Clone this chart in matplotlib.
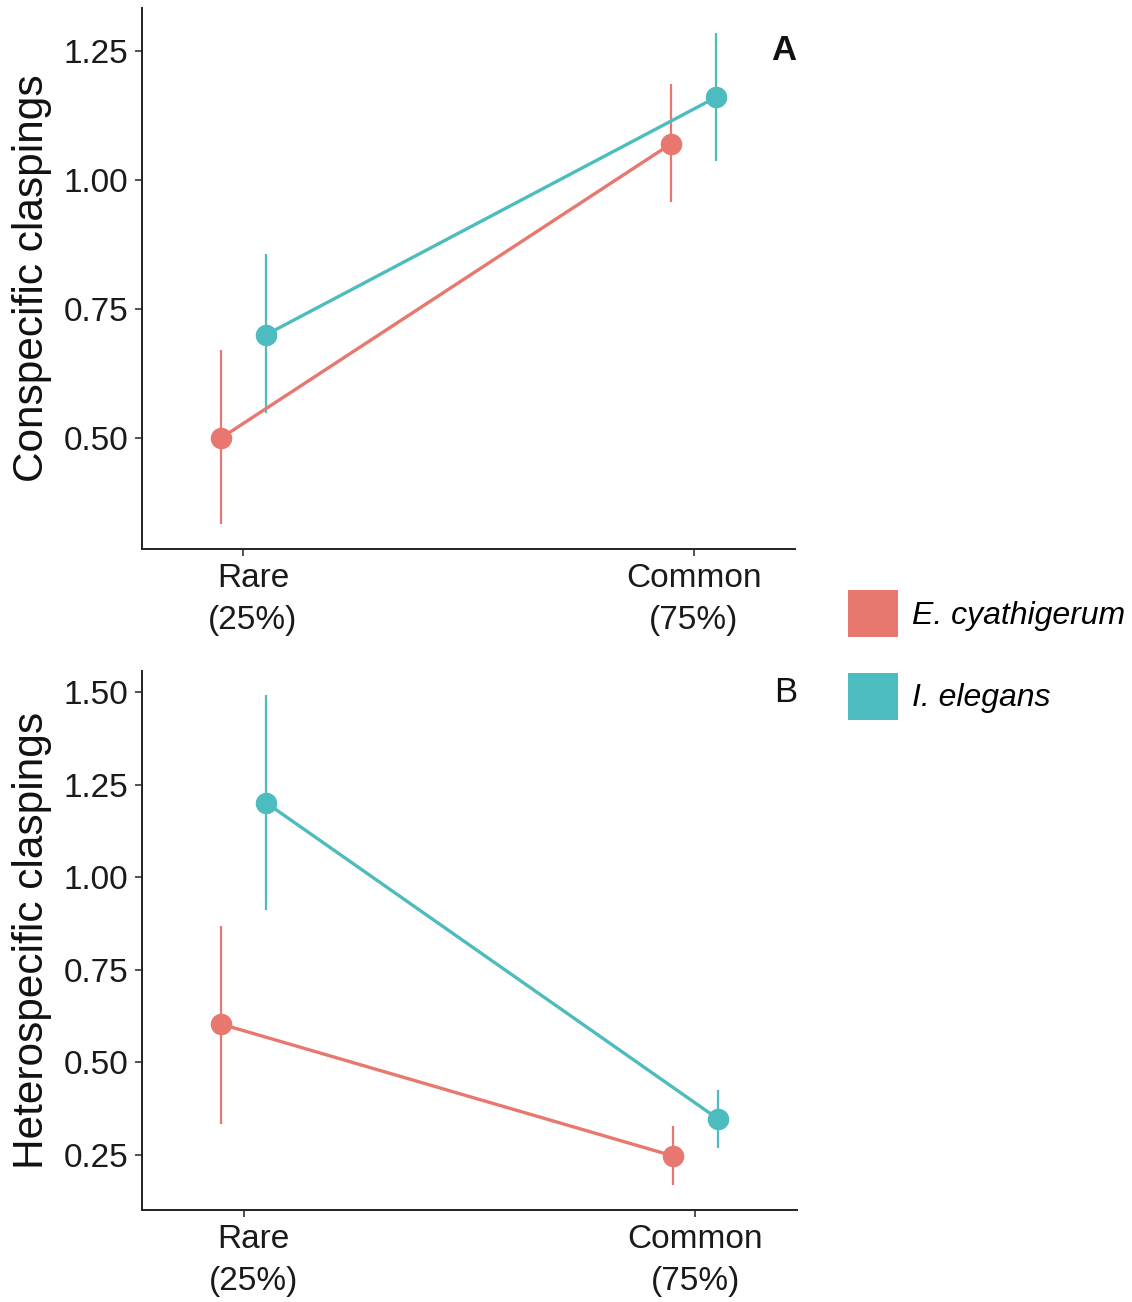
import matplotlib
matplotlib.use("Agg")
import matplotlib.pyplot as plt
import matplotlib.transforms as mtransforms
from matplotlib.patches import Patch
import numpy as np

plt.rcParams['font.family'] = ['Liberation Sans', 'DejaVu Sans']

# data
categories = ["Rare\n(25%)", "Common\n(75%)"]
species = ["E. cyathigerum", "I. elegans"]
colors = ["#E8776F", "#4DBCBF"]

# panel A: conspecific claspings (mean, lower, upper)
con_mean = {"E. cyathigerum": [0.50, 1.07], "I. elegans": [0.70, 1.16]}
con_lo = {"E. cyathigerum": [0.333, 0.958], "I. elegans": [0.549, 1.036]}
con_hi = {"E. cyathigerum": [0.671, 1.185], "I. elegans": [0.857, 1.285]}

# panel B: heterospecific claspings
het_mean = {"E. cyathigerum": [0.603, 0.247], "I. elegans": [1.201, 0.347]}
het_lo = {"E. cyathigerum": [0.332, 0.167], "I. elegans": [0.910, 0.269]}
het_hi = {"E. cyathigerum": [0.869, 0.328], "I. elegans": [1.491, 0.426]}

con_ticks = [0.50, 0.75, 1.00, 1.25]
het_ticks = [0.25, 0.50, 0.75, 1.00, 1.25, 1.50]

fig = plt.figure(figsize=(11.32, 13.02), dpi=100)
axA = fig.add_axes([0.1254, 0.5783, 0.5769, 0.4155])
axB = fig.add_axes([0.1254, 0.0707, 0.5786, 0.4140])

x = np.arange(1, len(categories) + 1)
dodge = [-0.05, 0.05]


def draw(ax, mean, lo, hi, ticks, ylabel, letter, letter_y, bold):
    for sp, c, d in zip(species, colors, dodge):
        m = np.array(mean[sp])
        err = [m - np.array(lo[sp]), np.array(hi[sp]) - m]
        ax.errorbar(x + d, m, yerr=err, color=c, lw=2.4, elinewidth=1.6,
                    marker='o', ms=14.5, capsize=0)
    ax.set_xlim(0.775, 2.225)
    vals = [v for sp in species for v in lo[sp] + hi[sp]]
    r = max(vals) - min(vals)
    ax.set_ylim(min(vals) - 0.05 * r, max(vals) + 0.05 * r)
    ax.set_xticks(x)
    ax.set_xticklabels(categories, linespacing=1.45)
    ax.set_yticks(ticks)
    ax.set_yticklabels(["%.2f" % t for t in ticks])
    ax.tick_params(labelsize=24, length=5, width=1.2, color='#333333',
                   labelcolor='#1a1a1a', pad=5)
    # the "Rare" label sits a little right of its tick in the original
    lab = ax.get_xticklabels()[0]
    lab.set_transform(lab.get_transform() +
                      mtransforms.ScaledTranslation(7 / 72, 0, fig.dpi_scale_trans))
    for s in ['top', 'right']:
        ax.spines[s].set_visible(False)
    for s in ['left', 'bottom']:
        ax.spines[s].set_linewidth(1.4)
        ax.spines[s].set_color('#222222')
    ax.set_ylabel(ylabel, fontsize=30.5, labelpad=8, color='#111111')
    ax.text(2.2, letter_y, letter, fontsize=25, ha='center', va='center',
            fontweight='bold' if bold else 'normal', color='#111111')


draw(axA, con_mean, con_lo, con_hi, con_ticks, "Conspecific claspings", "A", 1.25, True)
draw(axB, het_mean, het_lo, het_hi, het_ticks, "Heterospecific claspings", "B", 1.50, False)

handles = [Patch(facecolor=c, edgecolor='none') for c in colors]
fig.legend(handles, species, loc='center left', bbox_to_anchor=(848 / 1132, 1 - 655 / 1302),
           frameon=False, prop={'size': 23, 'style': 'italic'}, handlelength=1.55,
           handleheight=1.9, handletextpad=0.45, labelspacing=1.1,
           borderpad=0, borderaxespad=0)

fig.savefig("out.png", dpi=100)
